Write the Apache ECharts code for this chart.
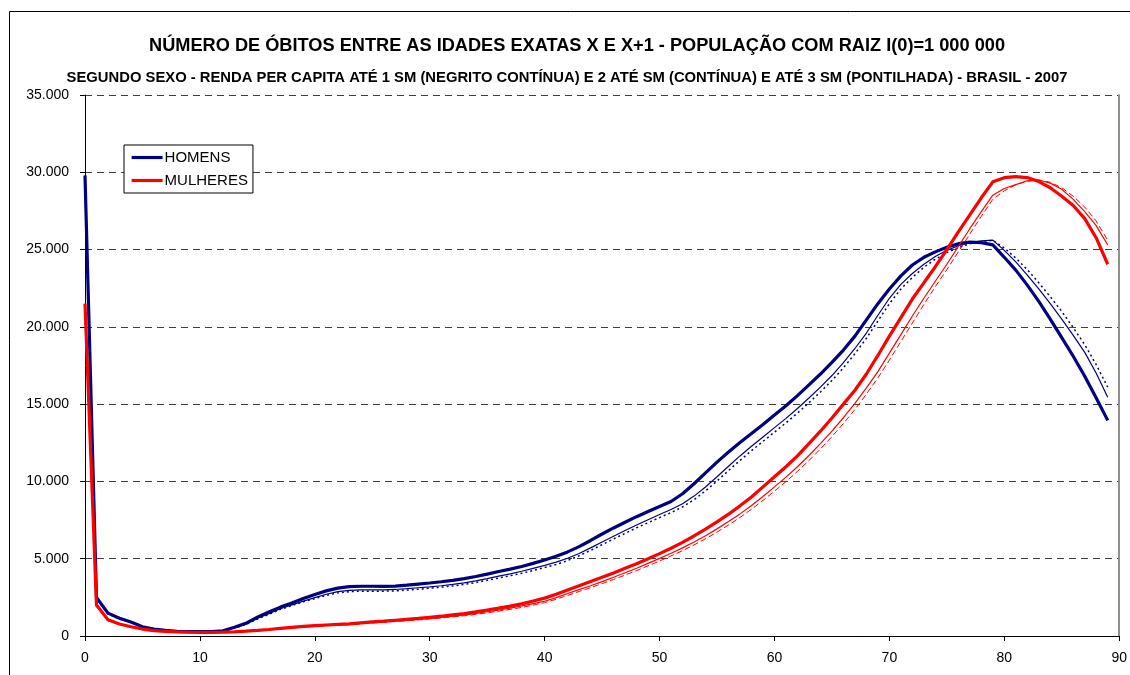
<!DOCTYPE html>
<html>
<head>
<meta charset="utf-8">
<script src="https://cdn.jsdelivr.net/npm/echarts@6/dist/echarts.min.js"></script>
<style>
html, body { margin: 0; padding: 0; background: #fff; overflow: hidden; }
#main { width: 1130px; height: 675px; }
</style>
</head>
<body>
<div id="main"></div>
<script>
// idades exatas x
const idades = [0,1,2,3,4,5,6,7,8,9,10,11,12,13,14,15,16,17,18,19,20,21,22,23,24,25,26,27,28,29,
  30,31,32,33,34,35,36,37,38,39,40,41,42,43,44,45,46,47,48,49,50,51,52,53,54,55,56,57,58,59,
  60,61,62,63,64,65,66,67,68,69,70,71,72,73,74,75,76,77,78,79,80,81,82,83,84,85,86,87,88,89]

// homens - ate 1 SM (negrito continua)
const homens1 = [29800,2500,1480,1150,900,600,450,360,300,280,280,290,330,560,820,1220,1550,1870,2130,2420,
  2680,2920,3100,3190,3220,3220,3210,3230,3290,3360,3430,3510,3600,3710,3850,4000,4170,4330,4500,4700,
  4920,5160,5440,5780,6180,6600,6990,7360,7720,8050,8380,8700,9200,9850,10550,11250,11900,12520,13100,13680,
  14300,14900,15550,16250,16950,17700,18500,19400,20450,21500,22450,23300,24000,24500,24850,25150,25380,25480,25450,25300,
  24500,23670,22700,21650,20500,19300,18100,16800,15400,13950]
// homens - ate 2 SM (continua)
const homens2 = [29400,2450,1450,1120,880,590,440,350,290,270,270,280,320,520,760,1130,1440,1760,2010,2260,
  2480,2700,2870,2950,2990,2990,2990,3010,3060,3120,3180,3250,3340,3440,3570,3710,3870,4020,4190,4380,
  4570,4780,5030,5340,5700,6080,6450,6820,7180,7520,7860,8180,8560,9050,9640,10300,10980,11650,12280,12880,
  13480,14080,14720,15400,16100,16850,17680,18600,19600,20750,21850,22750,23450,24050,24550,24950,25250,25450,25560,25610,
  24950,24200,23350,22450,21500,20500,19450,18350,17000,15450]
// homens - ate 3 SM (pontilhada)
const homens3 = [29100,2400,1430,1100,870,580,430,340,285,265,265,275,310,500,740,1100,1400,1720,1970,2210,
  2420,2630,2790,2870,2900,2900,2900,2920,2970,3030,3090,3160,3240,3340,3460,3600,3750,3900,4060,4240,
  4430,4630,4880,5190,5540,5910,6280,6640,7000,7330,7660,7980,8350,8820,9390,10030,10700,11360,11990,12590,
  13190,13790,14420,15090,15790,16530,17350,18260,19260,20380,21500,22450,23200,23850,24380,24800,25130,25380,25520,25600,
  25100,24450,23700,22850,21950,21000,19950,18850,17550,16100]

// mulheres - ate 1 SM (negrito continua)
const mulheres1 = [21500,2000,1050,780,600,450,350,300,270,250,240,240,250,270,310,360,420,490,560,620,
  670,710,750,790,850,910,960,1020,1080,1140,1210,1280,1370,1450,1560,1680,1800,1930,2080,2260,
  2450,2700,2980,3250,3520,3800,4080,4380,4680,5000,5330,5680,6060,6470,6910,7380,7880,8420,8990,9650,
  10300,10950,11650,12450,13250,14100,15000,15900,16950,18150,19400,20600,21800,22850,23890,25000,26150,27250,28350,29380,
  29650,29720,29660,29400,29000,28450,27850,27000,25750,24050]
// mulheres - ate 2 SM (continua)
const mulheres2 = [21000,1950,1020,760,590,440,345,295,265,245,235,235,245,265,300,350,405,470,535,595,
  640,680,715,755,810,865,910,965,1020,1075,1140,1205,1285,1360,1460,1570,1680,1800,1940,2100,
  2250,2480,2750,3000,3250,3520,3800,4090,4380,4700,5020,5350,5700,6080,6490,6930,7400,7900,8440,9030,
  9650,10280,10950,11680,12450,13260,14120,15050,16050,17100,18300,19500,20700,21850,22950,24050,25200,26350,27450,28520,
  28950,29200,29450,29500,29300,28900,28250,27450,26550,25300]
// mulheres - ate 3 SM (pontilhada)
const mulheres3 = [20800,1900,1000,750,580,430,340,290,260,240,230,230,240,260,295,340,395,455,520,575,
  620,660,695,735,785,840,885,935,990,1040,1100,1165,1240,1310,1400,1500,1610,1720,1850,2000,
  2160,2380,2630,2880,3130,3390,3660,3940,4230,4540,4850,5180,5520,5890,6290,6720,7180,7670,8200,8770,
  9370,9990,10650,11350,12100,12900,13750,14650,15650,16700,17850,19050,20250,21450,22600,23700,24850,26000,27150,28250,
  28800,29200,29420,29500,29350,29000,28450,27750,26850,25600]

const xTicks = [0, 10, 20, 30, 40, 50, 60, 70, 80, 90]
const yTicks = [0, 5000, 10000, 15000, 20000, 25000, 30000, 35000]

const AZUL = '#000080'
const VERMELHO = '#FF0000'
const FONTE = 'Liberation Sans, Arial, sans-serif'

function pares(valores) {
  return idades.map((x, i) => [x, valores[i]])
}

// 35000 -> "35.000"
function milhar(v) {
  return String(v).replace(/\B(?=(\d{3})+(?!\d))/g, '.')
}

var myChart = echarts.init(document.getElementById('main'))

var option = {
  animation: false,
  backgroundColor: '#fff',
  graphic: [
    {
      // moldura do grafico (cortada a direita e embaixo)
      type: 'rect',
      shape: { x: 9.5, y: 11.5, width: 1300, height: 800 },
      style: { fill: 'none', stroke: '#000', lineWidth: 1 },
      silent: true
    }
  ],
  title: [
    {
      text: 'NÚMERO DE ÓBITOS ENTRE AS IDADES EXATAS X E X+1 - POPULAÇÃO COM RAIZ I(0)=1 000 000',
      left: 572, top: 32, textAlign: 'center',
      textStyle: { fontFamily: FONTE, fontSize: 18.2, fontWeight: 'bold', color: '#000' }
    },
    {
      text: 'SEGUNDO SEXO - RENDA PER CAPITA ATÉ 1 SM (NEGRITO CONTÍNUA) E 2 ATÉ SM (CONTÍNUA) E ATÉ 3 SM (PONTILHADA) - BRASIL - 2007',
      left: 562, top: 65, textAlign: 'center',
      textStyle: { fontFamily: FONTE, fontSize: 14.8, fontWeight: 'bold', color: '#000' }
    }
  ],
  legend: {
    data: ['HOMENS', 'MULHERES'],
    orient: 'vertical',
    left: 124, top: 145,
    padding: [5, 5, 5, 6],
    itemGap: 8,
    itemWidth: 31,
    itemHeight: 15,
    backgroundColor: '#fff',
    borderColor: '#000',
    borderWidth: 1,
    borderRadius: 0,
    // so a linha, sem o simbolo
    itemStyle: { opacity: 0 },
    lineStyle: { width: 3.2 },
    textStyle: { fontFamily: FONTE, fontSize: 15, color: '#000', padding: [0, 0, 0, -3] }
  },
  grid: { left: 85, right: 5, top: 95, bottom: 39, containLabel: false },
  xAxis: {
    type: 'value',
    min: xTicks[0], max: xTicks[xTicks.length - 1], interval: 10,
    axisLine: { show: true, onZero: false, lineStyle: { color: '#000', width: 1 } },
    axisTick: { show: true, inside: false, length: 5, lineStyle: { color: '#000' } },
    axisLabel: { fontFamily: FONTE, fontSize: 14, color: '#000', margin: 15 },
    splitLine: { show: false }
  },
  yAxis: [
    {
      type: 'value',
      min: yTicks[0], max: yTicks[yTicks.length - 1], interval: 5000,
      axisLine: { show: true, lineStyle: { color: '#000', width: 1 } },
      axisTick: { show: true, inside: false, length: 5, lineStyle: { color: '#000' } },
      axisLabel: { fontFamily: FONTE, fontSize: 14, color: '#000', margin: 16, formatter: milhar },
      splitLine: { show: true, lineStyle: { color: '#404040', type: [7, 5], width: 1 } }
    },
    {
      type: 'value', position: 'right',
      min: yTicks[0], max: yTicks[yTicks.length - 1], interval: 5000,
      axisLine: { show: true, lineStyle: { color: '#909090', width: 2 } },
      axisTick: { show: false },
      axisLabel: { show: false },
      splitLine: { show: false }
    }
  ],
  series: [
    {
      name: 'HOMENS 3 SM', type: 'line', data: pares(homens3), symbol: 'none',
      lineStyle: { color: AZUL, width: 1.5, type: [2, 3] }, itemStyle: { color: AZUL }
    },
    {
      name: 'HOMENS 2 SM', type: 'line', data: pares(homens2), symbol: 'none',
      lineStyle: { color: AZUL, width: 1.2 }, itemStyle: { color: AZUL }
    },
    {
      name: 'HOMENS', type: 'line', data: pares(homens1), symbol: 'none',
      lineStyle: { color: AZUL, width: 3.2 }, itemStyle: { color: AZUL }
    },
    {
      name: 'MULHERES 3 SM', type: 'line', data: pares(mulheres3), symbol: 'none',
      lineStyle: { color: VERMELHO, width: 1, type: [6, 3] }, itemStyle: { color: VERMELHO }
    },
    {
      name: 'MULHERES 2 SM', type: 'line', data: pares(mulheres2), symbol: 'none',
      lineStyle: { color: VERMELHO, width: 1.2 }, itemStyle: { color: VERMELHO }
    },
    {
      name: 'MULHERES', type: 'line', data: pares(mulheres1), symbol: 'none',
      lineStyle: { color: VERMELHO, width: 3.2 }, itemStyle: { color: VERMELHO }
    }
  ]
}

myChart.setOption(option)
</script>
</body>
</html>
